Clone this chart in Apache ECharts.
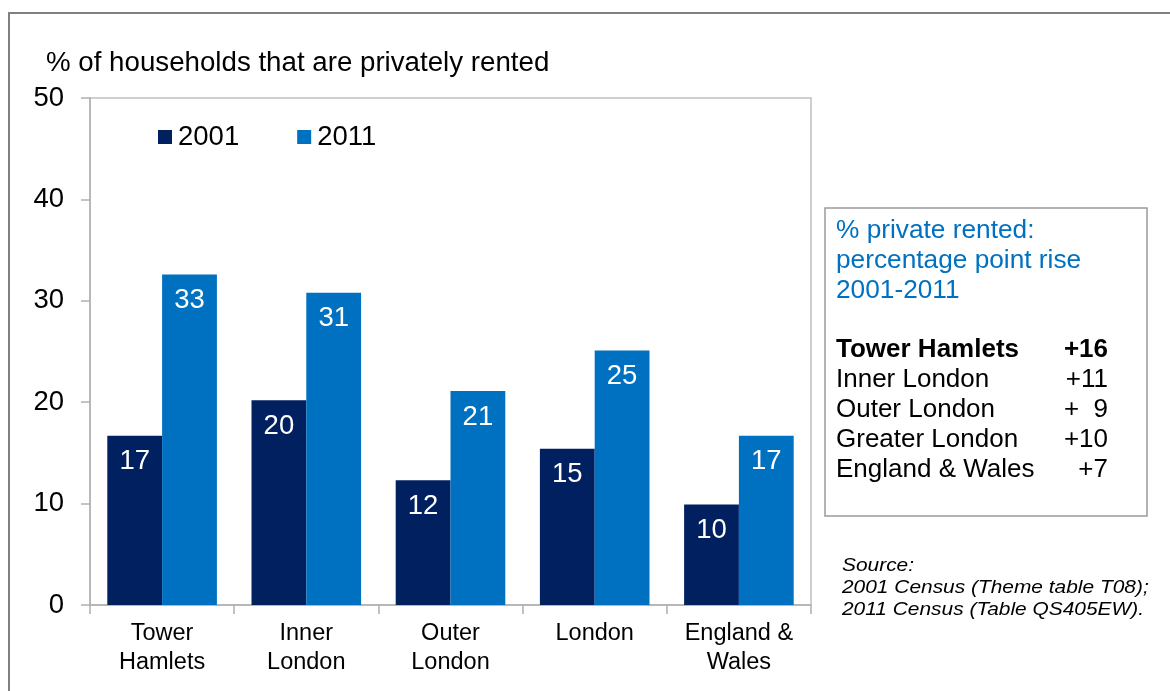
<!DOCTYPE html>
<html>
<head>
<meta charset="utf-8">
<script src="https://cdn.jsdelivr.net/npm/echarts@6/dist/echarts.min.js"></script>
<style>
html,body{margin:0;padding:0;background:#fff;}
#c{width:1170px;height:691px;}
</style>
</head>
<body>
<div id="c"></div>
<script>
var categories = ['Tower\nHamlets', 'Inner\nLondon', 'Outer\nLondon', 'London', 'England &\nWales'];
var values2001 = [16.7, 20.2, 12.3, 15.4, 9.9];
var values2011 = [32.6, 30.8, 21.1, 25.1, 16.7];
var yTicks = [0, 10, 20, 30, 40, 50];
var boxTitle = ['% private rented:', 'percentage point rise', '2001-2011'];
var boxRegions = ['Tower Hamlets', 'Inner London', 'Outer London', 'Greater London', 'England & Wales'];
var boxRises = ['+16', '+11', '+  9', '+10', '+7'];
var sourceLines = ['Source:', '2001 Census (Theme table T08);', '2011 Census (Table QS405EW).'];

var FONT = '"Liberation Sans", Arial, sans-serif';
var chart = echarts.init(document.getElementById('c'));

var graphics = [
  {type: 'rect', shape: {x: 9, y: 13, width: 1200, height: 720}, style: {fill: 'none', stroke: '#808080', lineWidth: 2}, silent: true},
  {type: 'rect', shape: {x: 825, y: 208, width: 322, height: 308}, style: {fill: '#fff', stroke: '#9a9a9a', lineWidth: 1.5}, silent: true}
];
boxTitle.forEach(function (t, i) {
  graphics.push({type: 'text', x: 836, y: 231 + i * 30, scaleX: 1.05, style: {text: t, fill: '#0070C0', font: '25px ' + FONT, verticalAlign: 'middle'}});
});
boxRegions.forEach(function (t, i) {
  var w = i === 0 ? 'bold ' : '';
  graphics.push({type: 'text', x: 836, y: 350 + i * 30, scaleX: 1.04, style: {text: t, fill: '#000', font: w + '25px ' + FONT, verticalAlign: 'middle'}});
  graphics.push({type: 'text', x: 1108, y: 350 + i * 30, scaleX: 1.04, style: {text: boxRises[i], fill: '#000', font: w + '25px ' + FONT, align: 'right', verticalAlign: 'middle'}});
});
sourceLines.forEach(function (t, i) {
  graphics.push({type: 'text', x: 842, y: 566 + i * 22, scaleX: 1.1, style: {text: t, fill: '#000', font: 'italic 19px ' + FONT, verticalAlign: 'middle'}});
});

chart.setOption({
  backgroundColor: '#fff',
  animation: false,
  textStyle: {fontFamily: FONT},
  title: {
    text: '% of households that are privately rented',
    left: 41, top: 44,
    textStyle: {fontSize: 27.7, fontWeight: 'normal', color: '#000', fontFamily: FONT}
  },
  legend: {
    left: 153, top: 118,
    itemWidth: 14, itemHeight: 14, itemGap: 58,
    icon: 'rect',
    textStyle: {fontSize: 27.5, color: '#000', fontFamily: FONT, padding: [0, 0, 0, 1]},
    data: ['2001', '2011']
  },
  grid: {
    left: 90, right: 359, top: 98, bottom: 86,
    show: true, borderColor: '#c0c0c0', borderWidth: 1.5, backgroundColor: 'transparent'
  },
  xAxis: {
    type: 'category',
    data: categories,
    axisLine: {lineStyle: {color: '#b0b0b0', width: 1.5}},
    axisTick: {show: true, alignWithLabel: false, length: 9, lineStyle: {color: '#b0b0b0', width: 1.5}},
    axisLabel: {fontSize: 23.5, color: '#000', lineHeight: 29, margin: 14, fontFamily: FONT, interval: 0}
  },
  yAxis: {
    type: 'value',
    min: yTicks[0], max: yTicks[yTicks.length - 1], interval: 10,
    axisLine: {show: true, lineStyle: {color: '#b0b0b0', width: 1.5}},
    axisTick: {show: true, length: 9, lineStyle: {color: '#b0b0b0', width: 1.5}},
    splitLine: {show: false},
    axisLabel: {fontSize: 27.5, color: '#000', margin: 26, fontFamily: FONT}
  },
  series: [
    {
      name: '2001', type: 'bar', data: values2001,
      barGap: '0%', barCategoryGap: '24%',
      itemStyle: {color: '#002060'},
      label: {show: true, position: 'insideTop', distance: 12, color: '#fff', fontSize: 27.5, fontFamily: FONT,
        formatter: function (p) { return Math.round(p.value); }}
    },
    {
      name: '2011', type: 'bar', data: values2011,
      barGap: '0%', barCategoryGap: '24%',
      itemStyle: {color: '#0070C0'},
      label: {show: true, position: 'insideTop', distance: 12, color: '#fff', fontSize: 27.5, fontFamily: FONT,
        formatter: function (p) { return Math.round(p.value); }}
    }
  ],
  graphic: graphics
});
</script>
</body>
</html>
